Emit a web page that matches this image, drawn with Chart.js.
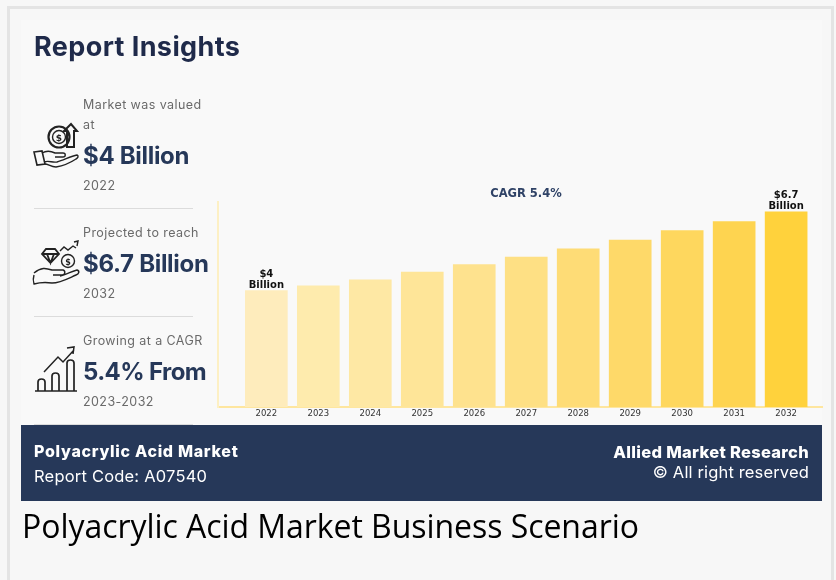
<!DOCTYPE html>
<html>
<head>
<meta charset="utf-8">
<title>Polyacrylic Acid Market Business Scenario</title>
<script src="https://cdn.jsdelivr.net/npm/chart.js@4"></script>
<style>
html, body { margin: 0; padding: 0; background: #f7f7f7; }
body { width: 836px; height: 580px; position: relative; overflow: hidden; font-family: "Inter", sans-serif; }
#frame { position: absolute; left: 7px; top: 6px; width: 827px; height: 574px; border: solid #e4e4e4; border-width: 3px 3px 0 3px; box-sizing: border-box; }
#panel { position: absolute; left: 21px; top: 20px; width: 801px; height: 405px; background: #f9f9f9; }
#chart { position: absolute; left: 0; top: 0; }
.abs { position: absolute; white-space: nowrap; }
.head { left: 34px; top: 30px; font-size: 27px; font-weight: 700; color: #1f2a4a; letter-spacing: 0.4px; }
.small { font-size: 12.5px; color: #6a6a6a; letter-spacing: 0.42px; }
.big { font-size: 24px; font-weight: 700; color: #263859; letter-spacing: -0.3px; }
.rule { position: absolute; left: 34px; width: 159px; height: 1px; background: #dcdcdc; }
#banner { position: absolute; left: 21px; top: 425px; width: 801px; height: 76px; background: #263859; }
.white { color: #fff; }
.caption { left: 22px; top: 504px; font-family: "Open Sans", sans-serif; font-size: 32px; color: #000; letter-spacing: -0.05px; }
svg.icon { position: absolute; left: 0; top: 0; fill: none; stroke: #222; stroke-width: 1.4; }
svg.icon text { font: bold 9px "DejaVu Sans"; fill: #222; stroke: none; text-anchor: middle; }
</style>
</head>
<body>
<div id="frame"></div>
<div id="panel"></div>
<canvas id="chart" width="836" height="580"></canvas>

<div class="abs head">Report Insights</div>

<div class="abs small" style="left:83px;top:97px">Market was valued</div>
<div class="abs small" style="left:83px;top:117px">at</div>
<div class="abs big" style="left:83px;top:141px">$4 Billion</div>
<div class="abs small" style="left:83px;top:178px">2022</div>
<div class="rule" style="top:208px"></div>

<div class="abs small" style="left:83px;top:225px">Projected to reach</div>
<div class="abs big" style="left:83px;top:249px">$6.7 Billion</div>
<div class="abs small" style="left:83px;top:286px">2032</div>
<div class="rule" style="top:316px"></div>

<div class="abs small" style="left:83px;top:333px">Growing at a CAGR</div>
<div class="abs big" style="left:83px;top:357px;letter-spacing:-0.6px">5.4% From</div>
<div class="abs small" style="left:83px;top:394px">2023-2032</div>
<div class="rule" style="top:424px"></div>

<svg class="icon" width="836" height="580">
  <!-- hand holding a coin -->
  <circle cx="59" cy="137" r="10.5" stroke-width="2.2"/><circle cx="59" cy="137" r="6.5"/>
  <text x="59" y="140.5">$</text>
  <path d="M67 147V131h-3l7-7 6 7h-3v16z" stroke-width="2"/>
  <path d="M34 152l8-1 3 13-8 1z" stroke-width="1.6"/>
  <path d="M42 153c5-3 9-2 13 0h8c3 0 3 4 0 4h-8M44 162c5-2 8 1 13 0 7-2 14-6 20-7 2 1 1 3-1 4-6 4-14 7-20 8-5 0-8-3-11-3"/>
  <!-- hand with gem and coin -->
  <path d="M46 249h9l4 5-8.500 9-8.500-9zM42 254h17M47 254l3.500 9 3.500-9" stroke-width="1.8"/>
  <circle cx="68" cy="261" r="6.500"/>
  <text x="68" y="264.500" style="font-size:8px">$</text>
  <path d="M60 251l4-4 4 3 5-4 3 2M74 242l4-1-1 5"/>
  <path d="M34 273c7-6 12-5 18-3h11c3 1 2 5-1 5h-9M60 276c6-1 12-5 17-6 3 1 2 4-1 5-9 4-16 8-24 8-7-1-11-1-18 1-1-3-1-6 0-9"/>
  <!-- rising bars with arrow -->
  <path d="M35 391h42M38 391v-9c0-4 7-4 7 0v9M52 391v-15c0-4 7-4 7 0v15M67 391v-28c0-4 7-4 7 0v28" stroke-width="1.7"/>
  <path d="M44 372l14-15 5 5 11-12M67 348l7-1-1 7" stroke-width="1.5"/>
</svg>

<div id="banner"></div>
<div class="abs white" style="left:34px;top:441px;font-size:16px;font-weight:800;letter-spacing:0.7px">Polyacrylic Acid Market</div>
<div class="abs white" style="left:34px;top:466px;font-size:16.500px;letter-spacing:0.2px">Report Code: A07540</div>
<div class="abs white" style="right:27px;top:442px;font-size:16.500px;font-weight:800;letter-spacing:0.3px">Allied Market Research</div>
<div class="abs white" style="right:27px;top:462px;font-size:16.500px;letter-spacing:0.15px">© All right reserved</div>
<div class="abs caption">Polyacrylic Acid Market Business Scenario</div>

<script>
const years = [2022, 2023, 2024, 2025, 2026, 2027, 2028, 2029, 2030, 2031, 2032];
const marketValues = [4, 4.16, 4.37, 4.63, 4.89, 5.15, 5.43, 5.73, 6.06, 6.37, 6.7];
const barColors = ["#feecbc", "#feebad", "#fee8a4", "#fee598", "#fee28e", "#fee084", "#fedc76", "#fed969", "#fed75e", "#fed450", "#ffd23c"];
// only the first and last bars carry a label
const valueLabels = { 2022: ["$4", "Billion"], 2032: ["$6.7", "Billion"] };

const barLabels = {
    id: "barLabels",
    afterDatasetsDraw(chart) {
        const { ctx, scales } = chart;
        ctx.save();
        ctx.font = "bold 10px 'DejaVu Sans'";
        ctx.fillStyle = "#111";
        ctx.textAlign = "center";
        years.forEach((year, i) => {
            const lines = valueLabels[year];
            if (!lines) return;
            const x = scales.x.getPixelForValue(year);
            const y = scales.y.getPixelForValue(marketValues[i]);
            ctx.fillText(lines[0], x, y - 14);
            ctx.fillText(lines[1], x, y - 3);
        });
        ctx.font = "bold 11.5px 'DejaVu Sans'";
        ctx.fillStyle = "#2f4266";
        ctx.fillText("CAGR 5.4%", 526, 197);
        ctx.restore();
    }
};

new Chart(document.getElementById("chart"), {
    type: "bar",
    data: {
        datasets: [{
            data: years.map((year, i) => ({ x: year, y: marketValues[i] })),
            backgroundColor: barColors,
            barThickness: 42
        }]
    },
    options: {
        responsive: false,
        animation: false,
        layout: { padding: { left: 218, right: 14, top: 202, bottom: 0 } },
        plugins: { legend: { display: false }, tooltip: { enabled: false } },
        scales: {
            x: {
                type: "linear",
                offset: false,
                min: 2021.07,
                max: 2032.69,
                afterBuildTicks(axis) {
                    axis.ticks = years.map(year => ({ value: year }));
                },
                grid: { display: false, drawTicks: false },
                border: { color: "#fee69f", width: 2 },
                ticks: {
                    maxRotation: 0,
                    autoSkip: false,
                    padding: 2,
                    color: "#333",
                    font: { family: "DejaVu Sans", size: 8.5 },
                    callback: value => String(value)
                },
                afterFit(axis) { axis.height = 173; }
            },
            y: {
                min: 0,
                max: 7.04,
                grid: { display: false },
                border: { color: "#fdf0c4", width: 2 },
                ticks: { display: false },
                afterFit(axis) { axis.width = 0; }
            }
        }
    },
    plugins: [barLabels]
});
</script>
</body>
</html>
